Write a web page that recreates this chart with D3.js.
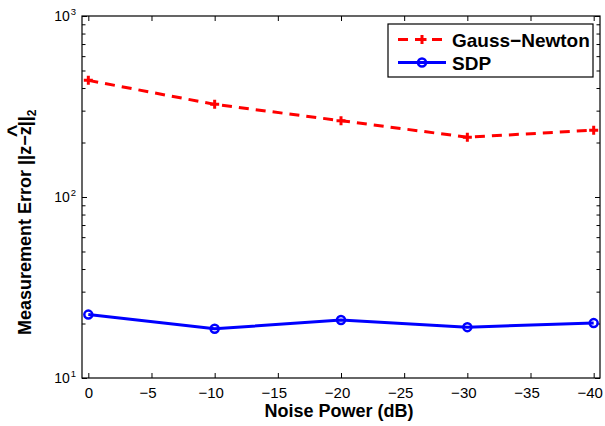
<!DOCTYPE html>
<html>
<head>
<meta charset="utf-8">
<script src="https://cdn.jsdelivr.net/npm/d3@7"></script>
<style>
  body { margin: 0; background: #fff; }
  text { font-family: "Liberation Sans", Arial, Helvetica, sans-serif; }
</style>
</head>
<body>
<svg id="chart" width="605" height="426"></svg>
<script>
// values
var noisePower = [0, -10, -20, -30, -40];
var gaussNewton = [441, 325, 264, 214, 234];
var sdp = [22.4, 18.7, 20.9, 19.1, 20.1];
var xTicks = [0, -5, -10, -15, -20, -25, -30, -35, -40];
var yTicks = [10, 100, 1000];
var yExp = ["1", "2", "3"];
var seriesNames = ["Gauss\u2212Newton", "SDP"];

var main = function() {

    var svg = d3.select('#chart');
    var left = 82, right = 600, top = 16, bottom = 378;

    var x = d3.scaleLinear().domain([0.5, -40.5]).range([left, right]);
    var y = d3.scaleLog().domain([10, 1000]).range([bottom, top]);

    // minor log ticks 20..90, 200..900
    var minor = [];
    [10, 100].forEach(function(d) {
        for (var k = 2; k <= 9; k++) minor.push(d * k);
    });

    var fmtX = function(d) { return d === 0 ? "0" : "\u2212" + Math.abs(d); };

    // bottom axis, ticks pointing inward
    var xb = svg.append('g')
        .attr('transform', 'translate(0,' + bottom + ')')
        .call(d3.axisBottom(x).tickValues(xTicks).tickFormat(fmtX)
            .tickSizeInner(-5).tickSizeOuter(0).tickPadding(9));
    xb.select('.domain').remove();
    xb.selectAll('text')
        .style('font-size', '15px').attr('fill', '#000')
        .attr('dx', function(d) { return d === 0 ? 0 : -4; });
    xb.selectAll('line').attr('stroke', '#000');

    // top axis, ticks only
    var xt = svg.append('g')
        .attr('transform', 'translate(0,' + top + ')')
        .call(d3.axisTop(x).tickValues(xTicks).tickFormat('')
            .tickSizeInner(-5).tickSizeOuter(0));
    xt.select('.domain').remove();
    xt.selectAll('line').attr('stroke', '#000');

    // left axis major + labels
    var yl = svg.append('g')
        .attr('transform', 'translate(' + left + ',0)')
        .call(d3.axisLeft(y).tickValues(yTicks).tickFormat(function() { return "10"; })
            .tickSizeInner(-5).tickSizeOuter(0).tickPadding(6));
    yl.select('.domain').remove();
    yl.selectAll('line').attr('stroke', '#000');
    yl.selectAll('text')
        .style('font-size', '14px').attr('fill', '#000')
        .append('tspan')
        .attr('dy', '-0.6em')
        .attr('dx', 1)
        .style('font-size', '9.5px')
        .text(function(d, i) { return yExp[i]; });

    var ylm = svg.append('g')
        .attr('transform', 'translate(' + left + ',0)')
        .call(d3.axisLeft(y).tickValues(minor).tickFormat('')
            .tickSizeInner(-3.5).tickSizeOuter(0));
    ylm.select('.domain').remove();
    ylm.selectAll('line').attr('stroke', '#000');

    // right axis ticks
    [[yTicks, 5], [minor, 3.5]].forEach(function(t) {
        var g = svg.append('g')
            .attr('transform', 'translate(' + right + ',0)')
            .call(d3.axisRight(y).tickValues(t[0]).tickFormat('')
                .tickSizeInner(-t[1]).tickSizeOuter(0));
        g.select('.domain').remove();
        g.selectAll('line').attr('stroke', '#000');
    });

    // box
    svg.append('rect')
        .attr('x', left).attr('y', top)
        .attr('width', right - left).attr('height', bottom - top)
        .attr('fill', 'none').attr('stroke', '#000').attr('stroke-width', 1.2);

    // series
    var gnData = noisePower.map(function(d, i) { return [d, gaussNewton[i]]; });
    var sdpData = noisePower.map(function(d, i) { return [d, sdp[i]]; });
    var line = d3.line().x(function(d) { return x(d[0]); }).y(function(d) { return y(d[1]); });

    svg.append('path').datum(gnData)
        .attr('d', line)
        .attr('fill', 'none').attr('stroke', '#ff0000')
        .attr('stroke-width', 3).attr('stroke-dasharray', '10,7');

    var plus = "M-4.5,0H4.5M0,-4.5V4.5";
    svg.selectAll('.gn-mark').data(gnData).enter().append('path')
        .attr('class', 'gn-mark')
        .attr('d', plus)
        .attr('transform', function(d) { return 'translate(' + x(d[0]) + ',' + y(d[1]) + ')'; })
        .attr('stroke', '#ff0000').attr('stroke-width', 3).attr('fill', 'none');

    svg.append('path').datum(sdpData)
        .attr('d', line)
        .attr('fill', 'none').attr('stroke', '#0000ff')
        .attr('stroke-width', 3);

    svg.selectAll('.sdp-mark').data(sdpData).enter().append('circle')
        .attr('class', 'sdp-mark')
        .attr('cx', function(d) { return x(d[0]); })
        .attr('cy', function(d) { return y(d[1]); })
        .attr('r', 4)
        .attr('stroke', '#0000ff').attr('stroke-width', 2.5).attr('fill', 'none');

    // axis labels
    svg.append('text')
        .attr('x', (left + right) / 2 - 2).attr('y', 417)
        .attr('text-anchor', 'middle')
        .style('font-size', '18px').style('font-weight', 'bold')
        .text('Noise Power (dB)');

    var yg = svg.append('g').attr('transform', 'translate(31,335) rotate(-90)');
    var ylab = yg.append('text')
        .style('font-size', '18px').style('font-weight', 'bold');
    ylab.append('tspan').text('Measurement Error ||z\u2212z||');
    ylab.append('tspan').attr('dy', 5).style('font-size', '12px').text('2');

    // hat over the second z
    var str = 'Measurement Error ||z\u2212z||';
    var zi = str.lastIndexOf('z');
    var ext = ylab.node().getExtentOfChar(zi);
    yg.append('text')
        .attr('x', ext.x + ext.width / 2)
        .attr('y', -8)
        .attr('text-anchor', 'middle')
        .style('font-size', '22px').style('font-weight', 'bold')
        .text('^');

    // legend
    var lg = svg.append('g');
    lg.append('rect')
        .attr('x', 388).attr('y', 24).attr('width', 205).attr('height', 53)
        .attr('fill', '#fff').attr('stroke', '#000').attr('stroke-width', 1.2);

    var rows = [39.5, 62.5];
    lg.append('line').attr('x1', 398).attr('x2', 446).attr('y1', rows[0]).attr('y2', rows[0])
        .attr('stroke', '#ff0000').attr('stroke-width', 3).attr('stroke-dasharray', '10,7');
    lg.append('path').attr('d', plus).attr('transform', 'translate(422,' + rows[0] + ')')
        .attr('stroke', '#ff0000').attr('stroke-width', 3);
    lg.append('line').attr('x1', 398).attr('x2', 446).attr('y1', rows[1]).attr('y2', rows[1])
        .attr('stroke', '#0000ff').attr('stroke-width', 3);
    lg.append('circle').attr('cx', 422).attr('cy', rows[1]).attr('r', 4)
        .attr('stroke', '#0000ff').attr('stroke-width', 2.5).attr('fill', 'none');

    lg.selectAll('.lg-text').data(seriesNames).enter().append('text')
        .attr('class', 'lg-text')
        .attr('x', 452)
        .attr('y', function(d, i) { return rows[i] + 7; })
        .style('font-size', '19px').style('font-weight', 'bold')
        .text(function(d) { return d; });
}
main()
</script>
</body>
</html>
